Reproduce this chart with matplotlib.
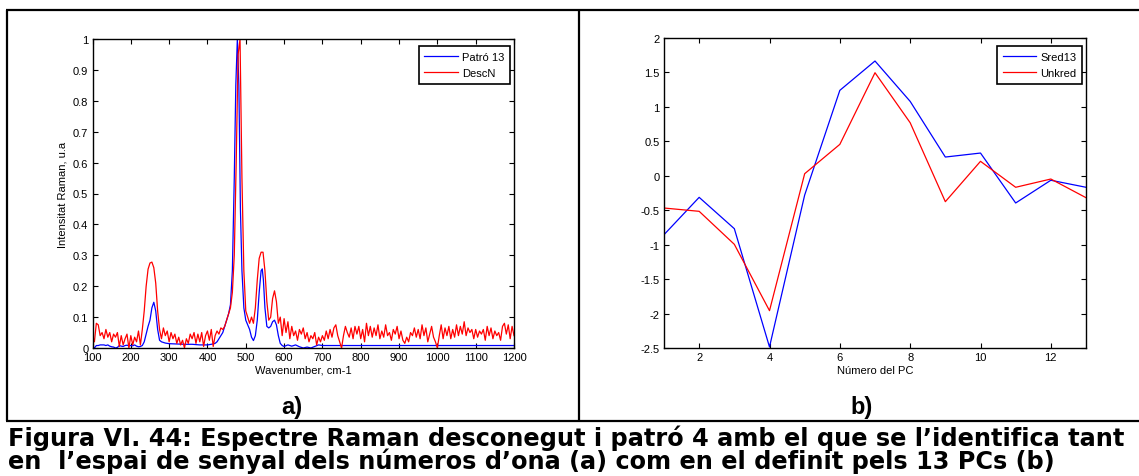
import matplotlib
matplotlib.use("Agg")
import matplotlib.pyplot as plt
import numpy as np

# ---------------- data ----------------
# panel a) : Raman spectra
wn_red = list(range(100, 1201, 5))
desc_n = [
    0.04, 0.02, 0.08, 0.075, 0.04, 0.05, 0.03, 0.06, 0.035, 0.05,      # 100-145
    0.02, 0.045, 0.035, 0.05, 0.005, 0.04, 0.01, 0.03, 0.045, 0.0,     # 150-195
    0.04, 0.01, 0.035, 0.02, 0.055, 0.01, 0.06, 0.12, 0.2, 0.255,      # 200-245
    0.275, 0.278, 0.26, 0.21, 0.12, 0.06, 0.03, 0.065, 0.04, 0.055,    # 250-295
    0.02, 0.05, 0.03, 0.045, 0.015, 0.035, 0.01, 0.025, 0.0, 0.03,     # 300-345
    0.015, 0.045, 0.03, 0.05, 0.015, 0.045, 0.02, 0.05, 0.005, 0.04,   # 350-395
    0.055, 0.025, 0.06, 0.005, 0.04, 0.055, 0.045, 0.065, 0.06, 0.07,  # 400-445
    0.09, 0.11, 0.13, 0.18, 0.3, 0.6, 0.95, 1.0, 0.55, 0.25,           # 450-495
    0.12, 0.1, 0.08, 0.1, 0.08, 0.13, 0.22, 0.29, 0.31, 0.31,          # 500-545
    0.25, 0.15, 0.09, 0.1, 0.16, 0.185, 0.15, 0.08, 0.1, 0.04,         # 550-595
    0.095, 0.05, 0.085, 0.03, 0.07, 0.04, 0.055, 0.025, 0.06, 0.045,   # 600-645
    0.065, 0.03, 0.05, 0.02, 0.04, 0.03, 0.05, 0.01, 0.035, 0.02,      # 650-695
    0.04, 0.025, 0.055, 0.03, 0.06, 0.035, 0.065, 0.075, 0.04, 0.02,   # 700-745
    0.0, 0.04, 0.07, 0.05, 0.035, 0.065, 0.03, 0.07, 0.045, 0.07,      # 750-795
    0.03, 0.06, 0.02, 0.08, 0.04, 0.07, 0.035, 0.065, 0.04, 0.075,     # 800-845
    0.03, 0.055, 0.035, 0.075, 0.04, 0.05, 0.025, 0.06, 0.045, 0.07,   # 850-895
    0.03, 0.055, 0.025, 0.015, 0.035, 0.02, 0.05, 0.04, 0.065, 0.035,  # 900-945
    0.06, 0.03, 0.075, 0.04, 0.065, 0.02, 0.045, 0.07, 0.035, 0.02,    # 950-995
    0.0, 0.04, 0.075, 0.03, 0.065, 0.04, 0.07, 0.03, 0.06, 0.035,      # 1000-1045
    0.075, 0.04, 0.07, 0.045, 0.085, 0.04, 0.065, 0.05, 0.06, 0.03,    # 1050-1095
    0.06, 0.035, 0.055, 0.045, 0.06, 0.025, 0.07, 0.04, 0.065, 0.03,   # 1100-1145
    0.055, 0.04, 0.05, 0.025, 0.07, 0.08, 0.045, 0.075, 0.03, 0.07,    # 1150-1195
    0.04,                                                              # 1200
]

wn_blue = [100, 105, 110, 115, 120, 125, 130, 135, 140, 145, 150, 155, 160,
           165, 170, 175, 180, 185, 190, 195, 200, 205, 210, 215, 220, 225,
           230, 235, 240, 245, 250, 255, 260, 265, 270, 275, 280, 290, 300,
           320, 340, 360, 380, 400, 410, 420, 425, 430, 435, 440, 445, 450,
           455, 460, 465, 470, 474, 478, 482, 486, 490, 495, 500, 505, 510,
           515, 520, 525, 530, 535, 540, 543, 546, 550, 555, 560, 565, 570,
           575, 580, 585, 590, 595, 600, 610, 620, 630, 640, 650, 660, 670,
           680, 690, 700, 1200]
patro_13 = [0.005, 0.0, 0.008, 0.008, 0.01, 0.01, 0.01, 0.008, 0.01, 0.006,
            0.004, 0.003, 0.0, 0.002, 0.008, 0.006, 0.005, 0.008, 0.009, 0.007,
            0.008, 0.007, 0.01, 0.006, 0.004, 0.005, 0.008, 0.02, 0.045, 0.07,
            0.09, 0.13, 0.148, 0.12, 0.06, 0.025, 0.02, 0.016, 0.014, 0.013,
            0.012, 0.012, 0.01, 0.01, 0.012, 0.015, 0.02, 0.03, 0.04, 0.05,
            0.07, 0.09, 0.11, 0.14, 0.25, 0.55, 0.85, 1.0, 0.85, 0.45,
            0.25, 0.13, 0.09, 0.075, 0.06, 0.035, 0.024, 0.04, 0.09, 0.18,
            0.25, 0.256, 0.22, 0.13, 0.07, 0.065, 0.07, 0.085, 0.09, 0.075,
            0.04, 0.015, 0.008, 0.005, 0.01, 0.006, 0.01, 0.004, 0.0, 0.003,
            0.0, 0.005, 0.01, 0.008, 0.008]

# panel b) : PC scores
pc = list(range(1, 14))
sred13 = [-0.855, -0.313, -0.768, -2.485, -0.28, 1.24, 1.666, 1.08, 0.272,
          0.33, -0.395, -0.065, -0.167]
unkred = [-0.468, -0.516, -0.995, -1.958, 0.03, 0.456, 1.496, 0.77, -0.376,
          0.21, -0.167, -0.047, -0.318]

xticks_a = list(range(100, 1201, 100))
yticks_a = [0, 0.1, 0.2, 0.3, 0.4, 0.5, 0.6, 0.7, 0.8, 0.9, 1]
xticks_b = [2, 4, 6, 8, 10, 12]
yticks_b = [-2.5, -2, -1.5, -1, -0.5, 0, 0.5, 1, 1.5, 2]

caption1 = "Figura VI. 44: Espectre Raman desconegut i patró 4 amb el que se l’identifica tant"
caption2 = "en  l’espai de senyal dels números d’ona (a) com en el definit pels 13 PCs (b)"

# ---------------- figure ----------------
W, H = 1139, 477
fig = plt.figure(figsize=(W / 100, H / 100), dpi=100)
fig.patch.set_facecolor("white")

SANS = ["Liberation Sans", "DejaVu Sans"]
FS = 8


def px_axes(x0, y0, x1, y1):
    return fig.add_axes([x0 / W, 1 - y1 / H, (x1 - x0) / W, (y1 - y0) / H])


def style(ax):
    for s in ax.spines.values():
        s.set_linewidth(1.0)
        s.set_color("black")
    ax.tick_params(direction="in", top=True, right=True, length=3.5,
                   width=0.8, labelsize=FS, pad=3)
    for lab in ax.get_xticklabels() + ax.get_yticklabels():
        lab.set_fontfamily(SANS)


# overlay for frame lines and captions
ov = fig.add_axes([0, 0, 1, 1])
ov.set_xlim(0, W)
ov.set_ylim(H, 0)
ov.axis("off")
ov.set_zorder(-1)
lw = 1.6
ov.plot([6, W], [11, 11], color="black", lw=lw, solid_capstyle="butt")
ov.plot([7, 7], [11, 422], color="black", lw=lw, solid_capstyle="butt")
ov.plot([579, 579], [11, 422], color="black", lw=lw, solid_capstyle="butt")
ov.plot([6, W], [422, 422], color="black", lw=lw, solid_capstyle="butt")

ov.text(292, 414, "a)", fontsize=17, fontweight="bold", family=SANS,
        ha="center", va="baseline")
ov.text(862, 414, "b)", fontsize=17, fontweight="bold", family=SANS,
        ha="center", va="baseline")

t1 = ov.text(8, 446, caption1, fontsize=15, fontweight="bold",
             family=["DejaVu Sans"], ha="left", va="baseline")
t2 = ov.text(8, 469, caption2, fontsize=15, fontweight="bold",
             family=["DejaVu Sans"], ha="left", va="baseline")
fig.canvas.draw()
w1 = t1.get_window_extent().width
fs = 15 * 1117 / w1
t1.set_fontsize(fs)
t2.set_fontsize(fs)

# ---- panel a ----
axa = px_axes(92.5, 40, 514, 349)
axa.plot(wn_blue, patro_13, color="#0000ff", lw=0.9, label="Patró 13")
axa.plot(wn_red, desc_n, color="#ff0000", lw=0.9, label="DescN")
axa.set_xlim(100, 1200)
axa.set_ylim(0, 1)
axa.set_xticks(xticks_a)
axa.set_xticklabels([str(v) for v in xticks_a])
axa.set_yticks(yticks_a)
axa.set_yticklabels(["0", "0.1", "0.2", "0.3", "0.4", "0.5", "0.6", "0.7",
                     "0.8", "0.9", "1"])
style(axa)
axa.set_xlabel("Wavenumber, cm-1", fontsize=FS, family=SANS, labelpad=2)
axa.set_ylabel("Intensitat Raman, u.a", fontsize=FS, family=SANS, labelpad=4)
leg = axa.legend(loc="upper right", bbox_to_anchor=(1 - 4 / 421.5, 1 - 7 / 309),
                 borderaxespad=0, fancybox=False, edgecolor="black",
                 framealpha=1, prop={"family": SANS, "size": FS},
                 handlelength=3.0, handletextpad=0.4, labelspacing=0.6,
                 borderpad=0.5)
leg.get_frame().set_linewidth(1.2)

# ---- panel b ----
axb = px_axes(664, 39, 1086, 349)
axb.plot(pc, sred13, color="#0000ff", lw=0.9, label="Sred13")
axb.plot(pc, unkred, color="#ff0000", lw=0.9, label="Unkred")
axb.set_xlim(1, 13)
axb.set_ylim(-2.5, 2)
axb.set_xticks(xticks_b)
axb.set_xticklabels([str(v) for v in xticks_b])
axb.set_yticks(yticks_b)
axb.set_yticklabels(["-2.5", "-2", "-1.5", "-1", "-0.5", "0", "0.5", "1",
                     "1.5", "2"])
style(axb)
axb.set_xlabel("Número del PC", fontsize=FS, family=SANS, labelpad=2)
leg = axb.legend(loc="upper right", bbox_to_anchor=(1 - 4 / 422, 1 - 8 / 310),
                 borderaxespad=0, fancybox=False, edgecolor="black",
                 framealpha=1, prop={"family": SANS, "size": FS},
                 handlelength=3.0, handletextpad=0.4, labelspacing=0.6,
                 borderpad=0.5)
leg.get_frame().set_linewidth(1.2)

fig.savefig("out.png", dpi=100, facecolor="white")
